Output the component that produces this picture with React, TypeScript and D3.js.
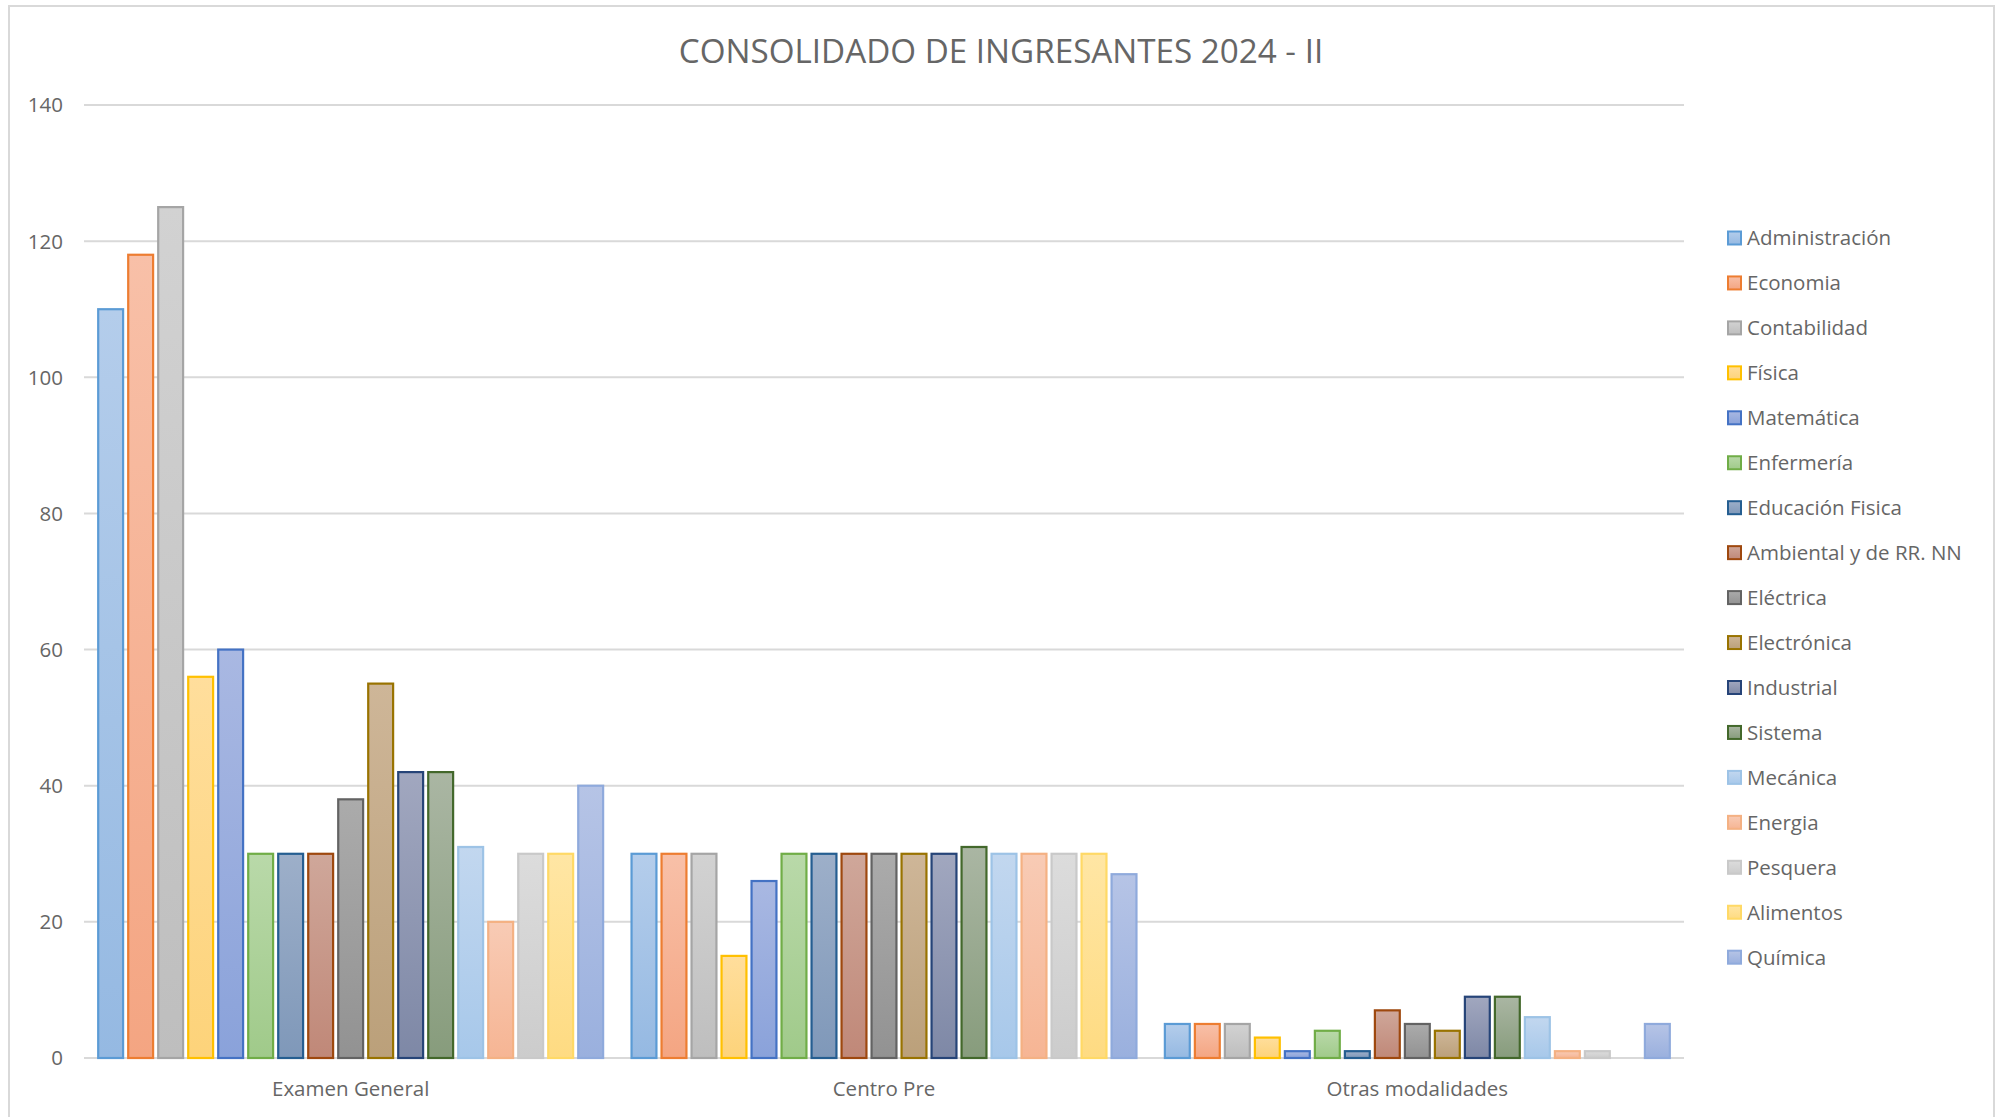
import { useMemo } from "react";
import { scaleBand, scaleLinear } from "d3";

const W = 2004;
const H = 1117;
const M = { top: 105, right: 320, bottom: 59, left: 84 };

const categories = ["Examen General", "Centro Pre", "Otras modalidades"];

const careers = [
  "Administración", "Economia", "Contabilidad", "Física", "Matemática", "Enfermería",
  "Educación Fisica", "Ambiental y de RR. NN", "Eléctrica", "Electrónica", "Industrial",
  "Sistema", "Mecánica", "Energia", "Pesquera", "Alimentos", "Química",
];

// one value per career, in the order above
const examenGeneral = [110, 118, 125, 56, 60, 30, 30, 30, 38, 55, 42, 42, 31, 20, 30, 30, 40];
const centroPre = [30, 30, 30, 15, 26, 30, 30, 30, 30, 30, 30, 31, 30, 30, 30, 30, 27];
const otrasModalidades = [5, 5, 5, 3, 1, 4, 1, 7, 5, 4, 9, 9, 6, 1, 1, 0, 5];

const yTicks = [0, 20, 40, 60, 80, 100, 120, 140];

// Office palette: stroke, gradient top, gradient bottom
const strokes = [
  "#5B9BD5", "#ED7D31", "#A5A5A5", "#FFC000", "#4472C4", "#70AD47",
  "#255E91", "#9E480E", "#636363", "#997300", "#264478", "#43682B",
  "#9DC3E6", "#F4B183", "#C9C9C9", "#FFD966", "#8FAADC",
];
const fillTop = [
  "#B4CDEB", "#F8C0A8", "#D2D2D2", "#FFDE9C", "#A9B8E2", "#B9D9A9",
  "#9DAFC9", "#CFA79A", "#ABABAB", "#CEB698", "#A1A7BF", "#AAB6A3",
  "#C2D7EF", "#F8CBB5", "#DCDCDC", "#FFE6A4", "#B6C4E6",
];
const fillBottom = [
  "#95B9E2", "#F4A582", "#BEBEBE", "#FDD37A", "#8AA2DA", "#A0CA8A",
  "#7F98B9", "#C08878", "#929292", "#BBA07A", "#7E88A6", "#879C7C",
  "#A7C8EA", "#F6B594", "#CCCCCC", "#FEDB82", "#9AB0DE",
];

const FONT = "'Open Sans', sans-serif";
const TEXT = "#666666";

export default function App() {
  const table = useMemo(() => [examenGeneral, centroPre, otrasModalidades], []);

  const x0 = scaleBand<string>().domain(categories).range([M.left, W - M.right]);
  const bw = x0.bandwidth();
  const x1 = scaleBand<string>().domain(careers).range([14.2, bw - 14.2]).paddingInner(0.17);
  const y = scaleLinear().domain([0, 140]).range([H - M.bottom, M.top]);

  return (
    <svg
      width={W}
      height={H}
      viewBox={`0 0 ${W} ${H}`}
      style={{ position: "absolute", left: 0, top: 0, background: "#fff" }}
      fontFamily={FONT}
    >
      <defs>
        {careers.map((c, i) => (
          <linearGradient key={c} id={`g${i}`} x1="0" y1="0" x2="0" y2="1">
            <stop offset="0" stopColor={fillTop[i]} />
            <stop offset="1" stopColor={fillBottom[i]} />
          </linearGradient>
        ))}
      </defs>

      <rect x={9} y={6} width={1985} height={1140} fill="#fff" stroke="#D9D9D9" strokeWidth={2} />

      <text x={1001} y={51} dy="0.36em" textAnchor="middle" fontSize={33.2} fill={TEXT}>
        CONSOLIDADO DE INGRESANTES 2024 - II
      </text>

      {yTicks.map((t) => (
        <g key={t}>
          <line x1={M.left} x2={W - M.right} y1={y(t)} y2={y(t)} stroke="#D9D9D9" strokeWidth={2} />
          <text x={63} y={y(t)} dy="0.36em" textAnchor="end" fontSize={20.5} fill={TEXT}>
            {t}
          </text>
        </g>
      ))}

      {categories.map((cat, ci) => (
        <g key={cat} transform={`translate(${x0(cat)},0)`}>
          {careers.map((c, si) => {
            const v = table[ci][si];
            if (!v) return null;
            const top = y(v);
            return (
              <rect
                key={c}
                x={x1(c)}
                y={top}
                width={x1.bandwidth()}
                height={y(0) - top}
                fill={`url(#g${si})`}
                stroke={strokes[si]}
                strokeWidth={2.2}
              />
            );
          })}
          <text x={bw / 2} y={1089} dy="0.36em" textAnchor="middle" fontSize={20.5} fill={TEXT}>
            {cat}
          </text>
        </g>
      ))}

      {careers.map((c, i) => {
        const ly = 238 + i * 44.95;
        return (
          <g key={c}>
            <rect x={1728} y={ly - 6.5} width={13} height={13} fill={`url(#g${i})`} stroke={strokes[i]} strokeWidth={2} />
            <text x={1747} y={ly} dy="0.36em" fontSize={20.5} fill={TEXT}>
              {c}
            </text>
          </g>
        );
      })}
    </svg>
  );
}
